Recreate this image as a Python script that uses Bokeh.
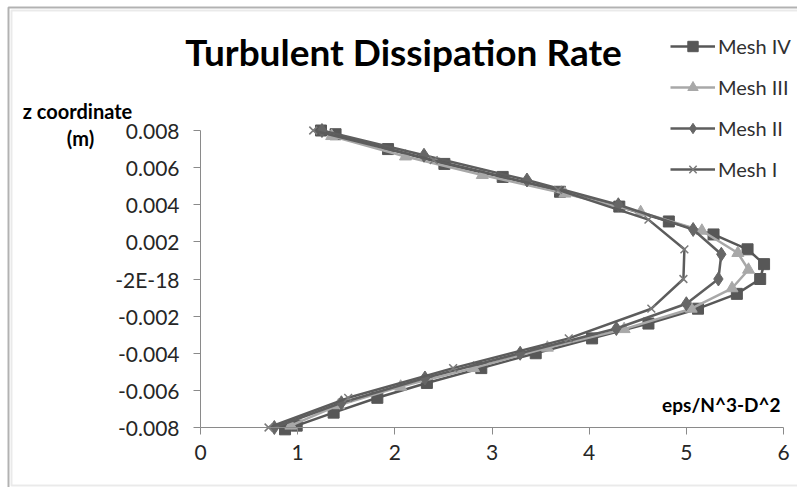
from bokeh.plotting import figure
from bokeh.models import FixedTicker, Label, Legend, LegendItem, BoxAnnotation, Range1d
from bokeh.embed import file_html
from bokeh.resources import INLINE

# ---- data (x = eps/N^3-D^2, z = z coordinate in m) ----
mesh4_x = [1.24, 1.39, 1.93, 2.51, 3.11, 3.70, 4.31, 4.82, 5.28, 5.63, 5.80, 5.76,
           5.52, 5.12, 4.61, 4.03, 3.45, 2.89, 2.33, 1.82, 1.37, 0.99, 0.87]
mesh4_z = [0.0080, 0.0078, 0.0070, 0.0062, 0.0055, 0.0047, 0.0039, 0.0031, 0.0024, 0.0016, 0.0008, 0.0000,
           -0.0008, -0.0016, -0.0024, -0.0032, -0.0040, -0.0048, -0.0056, -0.0064, -0.0072, -0.0079, -0.0081]

mesh3_x = [1.35, 2.11, 2.90, 3.75, 4.53, 5.16, 5.53, 5.64, 5.47, 5.05, 4.36, 3.57, 2.81, 2.06, 1.42, 0.93]
mesh3_z = [0.0077, 0.0066, 0.0056, 0.0046, 0.0036, 0.0026, 0.0014, 0.0005, -0.0005, -0.0016, -0.0027,
           -0.0037, -0.0048, -0.0058, -0.0068, -0.0079]

mesh2_x = [1.25, 2.30, 3.36, 4.30, 5.07, 5.36, 5.33, 5.00, 4.28, 3.29, 2.31, 1.45, 0.76]
mesh2_z = [0.008, 0.006667, 0.005333, 0.004, 0.002667, 0.001333, 0.0, -0.001333, -0.002667,
           -0.004, -0.005333, -0.006667, -0.008]

mesh1_x = [1.16, 2.40, 3.68, 4.61, 4.98, 4.97, 4.64, 3.79, 2.60, 1.52, 0.70]
mesh1_z = [0.008, 0.0064, 0.0048, 0.0032, 0.0016, 0.0, -0.0016, -0.0032, -0.0048, -0.0064, -0.008]

x_ticks = [0, 1, 2, 3, 4, 5, 6]
y_ticks = [-0.008, -0.006, -0.004, -0.002, 0.0, 0.002, 0.004, 0.006, 0.008]
y_tick_labels = ["-0.008", "-0.006", "-0.004", "-0.002", "-2E-18", "0.002", "0.004", "0.006", "0.008"]

series_names = ["Mesh IV", "Mesh III", "Mesh II", "Mesh I"]

FONT = "Lato"
W, H = 797, 487
# plot-area placement inside the canvas (pixels from top-left)
PL, PR, PT, PB = 200, 783, 130, 427
X0, X1 = x_ticks[0], x_ticks[-1]
Y0, Y1 = y_ticks[0], y_ticks[-1]
kx = (X1 - X0) / (PR - PL)
ky = (Y1 - Y0) / (PB - PT)

p = figure(width=W, height=H, output_backend="svg", toolbar_location=None,
           x_range=Range1d(X0 - PL * kx, X1 + (W - PR) * kx),
           y_range=Range1d(Y0 - (H - PB) * ky, Y1 + PT * ky),
           min_border=0, min_border_left=0, min_border_right=0, min_border_top=0, min_border_bottom=0)
p.title.text = ""
p.grid.visible = False
p.outline_line_color = None
p.background_fill_color = "white"
p.border_fill_color = "white"

for ax in (p.xaxis[0], p.yaxis[0]):
    ax.axis_line_color = "#8a8a8a"
    ax.axis_line_width = 1
    ax.major_tick_line_color = "#8a8a8a"
    ax.major_tick_out = 7
    ax.major_tick_in = 0
    ax.minor_tick_line_color = None
    ax.major_label_text_font = FONT
    ax.major_label_text_font_size = "21px"
    ax.major_label_text_color = "#262626"

p.xaxis.fixed_location = Y0
p.xaxis.bounds = (X0, X1)
p.xaxis.ticker = FixedTicker(ticks=x_ticks)
p.xaxis.major_label_standoff = 10
p.yaxis.fixed_location = X0
p.yaxis.bounds = (Y0, Y1)
p.yaxis.ticker = FixedTicker(ticks=y_ticks)
p.yaxis.major_label_overrides = {t: l for t, l in zip(y_ticks, y_tick_labels)}
p.yaxis.major_label_standoff = 14

# series
c4, c3, c2, c1 = "#575757", "#a8a8a8", "#5e5e5e", "#5c5c5c"
l4 = p.line(mesh4_x, mesh4_z, line_color=c4, line_width=2.5)
s4 = p.scatter(mesh4_x, mesh4_z, marker="square", size=11, fill_color=c4, line_color=c4)
l3 = p.line(mesh3_x, mesh3_z, line_color=c3, line_width=2.5)
s3 = p.scatter(mesh3_x, mesh3_z, marker="triangle", size=12, fill_color=c3, line_color=c3)
l2 = p.line(mesh2_x, mesh2_z, line_color=c2, line_width=2.5)
s2 = p.scatter(mesh2_x, mesh2_z, marker="diamond", size=14, fill_color="#666666", line_color="#666666")
l1 = p.line(mesh1_x, mesh1_z, line_color=c1, line_width=2.5)
s1 = p.scatter(mesh1_x, mesh1_z, marker="x", size=11, line_color="#7a7a7a", line_width=1.5)

legend = Legend(items=[LegendItem(label=series_names[0], renderers=[l4, s4]),
                       LegendItem(label=series_names[1], renderers=[l3, s3]),
                       LegendItem(label=series_names[2], renderers=[l2, s2]),
                       LegendItem(label=series_names[3], renderers=[l1, s1])],
                location=(670, 305), glyph_width=45, glyph_height=26, label_height=20,
                spacing=15, padding=0, margin=0, label_standoff=3,
                label_text_font=FONT, label_text_font_size="20px", label_text_color="#303030",
                border_line_color=None, background_fill_alpha=0)
p.add_layout(legend)

# texts (screen px from the canvas' bottom-left)
p.add_layout(Label(x=403, y=436, x_units="screen", y_units="screen",
                   text="Turbulent Dissipation Rate", text_align="center", text_baseline="alphabetic",
                   text_font=FONT, text_font_style="bold", text_font_size="37px", text_color="black"))
p.add_layout(Label(x=77, y=377, x_units="screen", y_units="screen",
                   text="z coordinate", text_align="center", text_baseline="alphabetic",
                   text_font=FONT, text_font_style="bold", text_font_size="20px", text_color="black"))
p.add_layout(Label(x=80, y=350, x_units="screen", y_units="screen",
                   text="(m)", text_align="center", text_baseline="alphabetic",
                   text_font=FONT, text_font_style="bold", text_font_size="20px", text_color="black"))
p.add_layout(Label(x=780, y=83, x_units="screen", y_units="screen",
                   text="eps/N^3-D^2", text_align="right", text_baseline="alphabetic",
                   text_font=FONT, text_font_style="bold", text_font_size="19px", text_color="black"))

# chart-area frame (black outer edge top/left, grey inner edge)
p.add_layout(BoxAnnotation(left=8, right=W + 20, top=H - 7, bottom=-20,
                           left_units="screen", right_units="screen", top_units="screen",
                           bottom_units="screen", fill_alpha=0, line_color="black", line_width=2))
p.add_layout(BoxAnnotation(left=11, right=W + 20, top=H - 10, bottom=2,
                           left_units="screen", right_units="screen", top_units="screen",
                           bottom_units="screen", fill_alpha=0, line_color="#b8b8b8", line_width=2))

open("out.html", "w").write(file_html(p, INLINE))
